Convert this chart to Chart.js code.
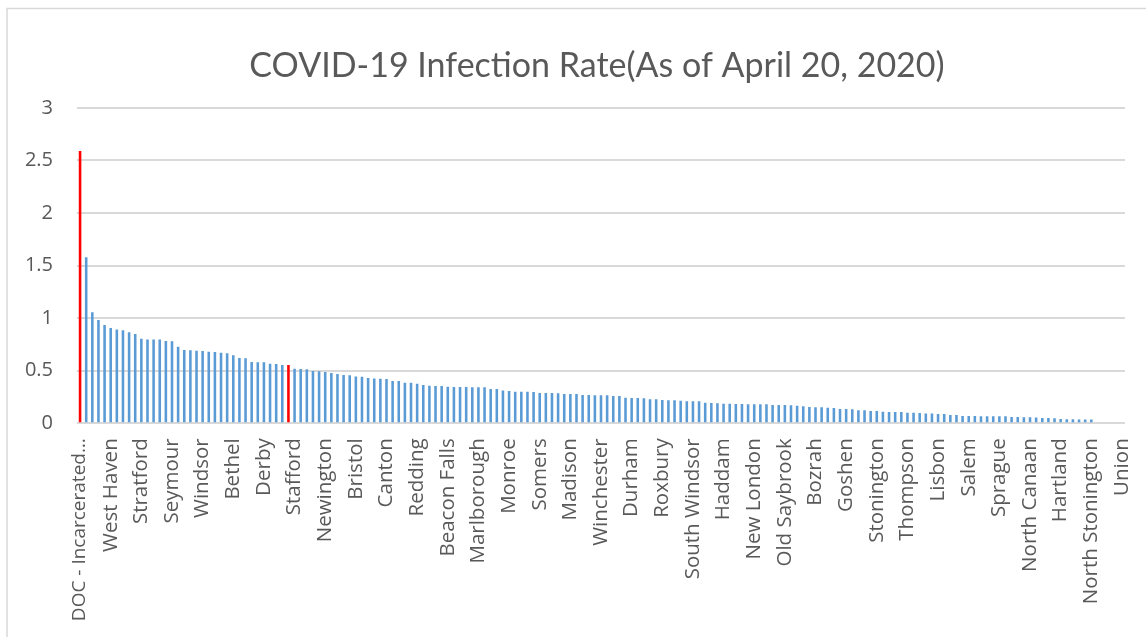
<!DOCTYPE html>
<html>
<head>
<meta charset="utf-8">
<script src="https://cdn.jsdelivr.net/npm/chart.js@4/dist/chart.umd.min.js"></script>
<style>
  html, body { margin: 0; padding: 0; background: #ffffff; }
  #wrap { width: 1146px; height: 637px; position: relative; }
</style>
</head>
<body>
<div id="wrap"><canvas id="chart" width="1146" height="637"></canvas></div>
<script>
// Infection rate (%) per town, sorted from highest to lowest
const rates = [
  2.59, 1.578, 1.055, 0.982, 0.934, 0.906, 0.893, 0.884, 0.865, 0.849,
  0.804, 0.798, 0.798, 0.798, 0.782, 0.78, 0.728, 0.697, 0.694, 0.69,
  0.687, 0.681, 0.678, 0.671, 0.665, 0.646, 0.621, 0.618, 0.583, 0.58,
  0.58, 0.567, 0.564, 0.554, 0.554, 0.518, 0.516, 0.514, 0.497, 0.494,
  0.488, 0.478, 0.469, 0.459, 0.456, 0.446, 0.443, 0.43, 0.427, 0.424,
  0.421, 0.402, 0.402, 0.386, 0.386, 0.376, 0.364, 0.357, 0.354, 0.354,
  0.348, 0.345, 0.345, 0.345, 0.342, 0.342, 0.342, 0.326, 0.326, 0.313,
  0.307, 0.301, 0.301, 0.3, 0.298, 0.288, 0.288, 0.288, 0.285, 0.279,
  0.279, 0.279, 0.269, 0.269, 0.266, 0.266, 0.266, 0.26, 0.26, 0.244,
  0.241, 0.241, 0.238, 0.228, 0.228, 0.222, 0.219, 0.219, 0.215, 0.209,
  0.209, 0.209, 0.196, 0.193, 0.19, 0.187, 0.187, 0.184, 0.184, 0.181,
  0.181, 0.181, 0.181, 0.174, 0.174, 0.174, 0.171, 0.168, 0.162, 0.155,
  0.152, 0.152, 0.149, 0.146, 0.136, 0.136, 0.133, 0.124, 0.124, 0.117,
  0.117, 0.111, 0.108, 0.108, 0.108, 0.101, 0.101, 0.098, 0.092, 0.092,
  0.089, 0.089, 0.079, 0.079, 0.07, 0.07, 0.07, 0.067, 0.067, 0.067,
  0.067, 0.067, 0.06, 0.06, 0.057, 0.057, 0.054, 0.051, 0.051, 0.048,
  0.041, 0.038, 0.038, 0.035, 0.035, 0.035, 0, 0, 0, 0,
  0
];

// Town names printed under every fifth bar
const labeledTowns = [
  "DOC - Incarcerated\u2026", "West Haven", "Stratford", "Seymour", "Windsor",
  "Bethel", "Derby", "Stafford", "Newington", "Bristol",
  "Canton", "Redding", "Beacon Falls", "Marlborough", "Monroe",
  "Somers", "Madison", "Winchester", "Durham", "Roxbury",
  "South Windsor", "Haddam", "New London", "Old Saybrook", "Bozrah",
  "Goshen", "Stonington", "Thompson", "Lisbon", "Salem",
  "Sprague", "North Canaan", "Hartland", "North Stonington", "Union"
];
const labelStep = 5;

// Bars drawn in red
const highlightIndices = [0, 34];

const categories = rates.map((_, i) => (i % labelStep === 0 ? labeledTowns[i / labelStep] : ""));
const barColors = rates.map((_, i) => (highlightIndices.includes(i) ? "#FF0000" : "#5B9BD5"));

// White background, thin grey chart frame, and title centred over the whole chart box
const frame = {
  id: "frame",
  afterLayout(chart) {
    if (chart.titleBlock) {
      chart.titleBlock.left = 69;
      chart.titleBlock.right = 1125;
    }
  },
  beforeDraw(chart) {
    const ctx = chart.ctx;
    ctx.save();
    ctx.fillStyle = "#ffffff";
    ctx.fillRect(0, 0, chart.width, chart.height);
    ctx.strokeStyle = "#d9d9d9";
    ctx.lineWidth = 1.5;
    ctx.beginPath();
    ctx.moveTo(7, chart.height);
    ctx.lineTo(7, 8.5);
    ctx.lineTo(chart.width, 8.5);
    ctx.stroke();
    ctx.restore();
  }
};

new Chart(document.getElementById("chart"), {
  type: "bar",
  data: {
    labels: categories,
    datasets: [{
      data: rates,
      backgroundColor: barColors,
      borderWidth: 0,
      barPercentage: 0.42,
      categoryPercentage: 1
    }]
  },
  options: {
    responsive: false,
    animation: false,
    layout: { padding: { left: 0, right: 21, top: 0, bottom: 0 } },
    plugins: {
      legend: { display: false },
      tooltip: { enabled: false },
      title: {
        display: true,
        text: "COVID-19 Infection Rate(As of April 20, 2020)",
        color: "#595959",
        font: { family: "Lato", size: 34, weight: "normal" },
        padding: { top: 46, bottom: 21 },
        align: "center"
      }
    },
    scales: {
      x: {
        grid: { display: false },
        border: { display: false },
        ticks: {
          autoSkip: false,
          minRotation: 90,
          maxRotation: 90,
          padding: 7,
          color: "#595959",
          // the long first label is set a touch smaller so it stays inside the chart
          font: (ctx) => ({ family: "Open Sans", size: ctx.index === 0 ? 19 : 20.5 })
        },
        afterFit(scale) {
          scale.height = 213.7;
          scale.paddingLeft = 0;
          scale.paddingRight = 0;
        }
      },
      y: {
        min: 0,
        max: 3,
        ticks: {
          stepSize: 0.5,
          padding: 24,
          color: "#595959",
          font: { family: "Open Sans", size: 20 },
          callback: (v) => String(Number(v))
        },
        grid: { color: "#d9d9d9", lineWidth: 2, drawTicks: false },
        border: { display: false },
        afterFit(scale) {
          scale.width = 77;
          scale.paddingTop = 0;
          scale.paddingBottom = 0;
        }
      }
    }
  },
  plugins: [frame]
});
</script>
</body>
</html>
